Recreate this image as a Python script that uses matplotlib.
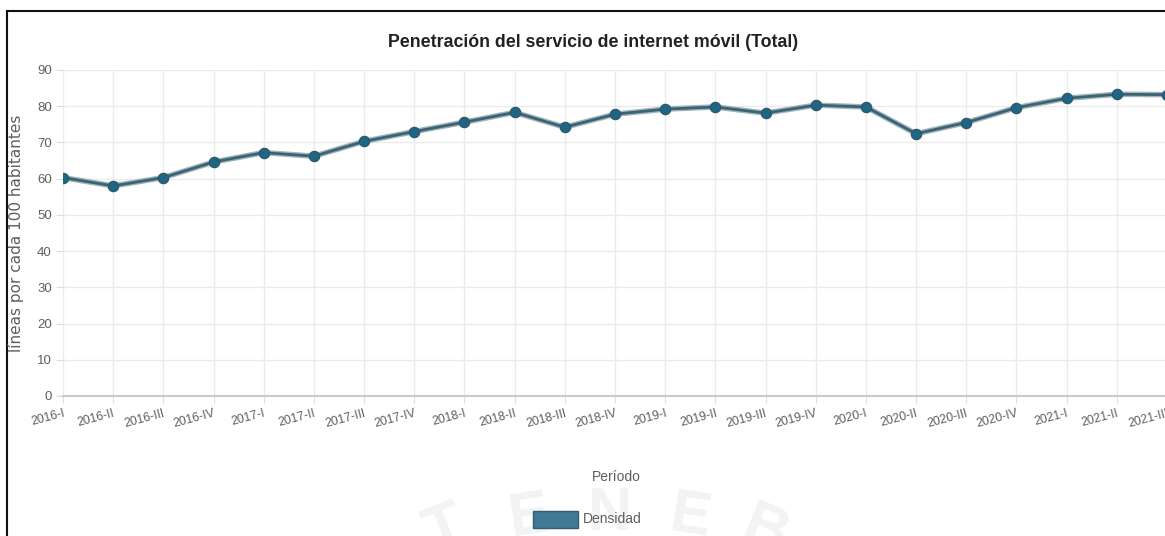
import matplotlib
matplotlib.use("Agg")
import matplotlib.pyplot as plt
from matplotlib.patches import Rectangle
from matplotlib.lines import Line2D
import matplotlib.transforms as mtransforms

# Data
periodos = ["2016-I", "2016-II", "2016-III", "2016-IV",
            "2017-I", "2017-II", "2017-III", "2017-IV",
            "2018-I", "2018-II", "2018-III", "2018-IV",
            "2019-I", "2019-II", "2019-III", "2019-IV",
            "2020-I", "2020-II", "2020-III", "2020-IV",
            "2021-I", "2021-II", "2021-III"]
densidad = [60.3, 58.0, 60.3, 64.6,
            67.2, 66.2, 70.3, 73.0,
            75.6, 78.3, 74.2, 77.8,
            79.2, 79.8, 78.1, 80.3,
            79.8, 72.4, 75.5, 79.6,
            82.2, 83.3, 83.2]
y_ticks = [0, 10, 20, 30, 40, 50, 60, 70, 80, 90]

W, H = 1165, 536
narrow = ["Liberation Sans Narrow", "Liberation Sans", "DejaVu Sans"]
regular = ["Liberation Sans", "DejaVu Sans"]
txt_gray = "#5e5e5e"
line_col = "#3b6374"
dot_col = "#1f6584"

fig = plt.figure(figsize=(W / 100, H / 100), dpi=100, facecolor="white")

# faint watermark letters at the bottom (behind everything)
for ch, x, y, rot in [("T", 445, 530, 22), ("E", 530, 517, 9), ("N", 610, 514, 0),
                      ("E", 690, 518, -9), ("B", 765, 532, -22)]:
    fig.text(x / W, 1 - y / H, ch, fontsize=44, fontweight="bold", color="#f3f3f3",
             rotation=rot, ha="center", va="center", family=regular, zorder=0)

ax = fig.add_axes([63 / W, 1 - 396 / H, (1167 - 63) / W, (396 - 70) / H])
ax.set_facecolor("none")
x = list(range(len(periodos)))
ax.plot(x, densidad, color="#9fb4bd", lw=4.0, zorder=3, solid_capstyle="round")
ax.plot(x, densidad, color=line_col, lw=2.0, zorder=4)
ax.plot(x, densidad, ls="none", marker="o", ms=7.5, color=dot_col,
        markeredgecolor="#2d5566", markeredgewidth=0.8, zorder=5)

ax.set_xlim(0, len(periodos) - 1)
ax.set_ylim(0, 90)
ax.set_yticks(y_ticks)
ax.set_xticks(x)
ax.grid(True, color="#ebebeb", lw=1.0, zorder=0)
for s in ["top", "right", "left"]:
    ax.spines[s].set_visible(False)
ax.spines["bottom"].set_color("#c9c9c9")
ax.spines["bottom"].set_linewidth(1.5)
ax.tick_params(axis="y", length=5, color="#dddddd", labelcolor=txt_gray, labelsize=9.5, pad=3)
ax.tick_params(axis="x", length=5, color="#dddddd", labelcolor=txt_gray, pad=1)
for lab in ax.get_yticklabels():
    lab.set_family(narrow)

ax.set_xticklabels(periodos, rotation=15, ha="right", va="top", rotation_mode="anchor",
                   fontsize=8.8, family=narrow, color=txt_gray)
offset = mtransforms.ScaledTranslation(0, -3 / 100, fig.dpi_scale_trans)
for lab in ax.get_xticklabels():
    lab.set_transform(lab.get_transform() + offset)

# y axis title
fig.text(16 / W, 1 - 233 / H, "líneas por cada 100 habitantes", rotation=90,
         ha="center", va="center", fontsize=11, color=txt_gray, family="DejaVu Sans")

# chart title
fig.text(593 / W, 1 - 42 / H, "Penetración del servicio de internet móvil (Total)",
         ha="center", va="center", fontsize=12.8, fontweight="bold", color="#222222",
         family=narrow)

# x axis title
fig.text(616 / W, 1 - 477 / H, "Período", ha="center", va="center",
         fontsize=10, color=txt_gray, family=narrow)

# legend
fig.patches.append(Rectangle((533 / W, 1 - 528 / H), 45 / W, 17 / H,
                             transform=fig.transFigure, facecolor="#3f7a95",
                             edgecolor="#2f5f73", lw=1.0, zorder=5))
fig.text(583 / W, 1 - 519 / H, "Densidad", ha="left", va="center",
         fontsize=10, color=txt_gray, family=narrow)

# frame of the screenshot
fig.add_artist(Line2D([6.5 / W, 6.5 / W], [0, 1 - 10.5 / H], transform=fig.transFigure,
                      color="#111111", lw=1.5))
fig.add_artist(Line2D([6.5 / W, 1], [1 - 10.5 / H, 1 - 10.5 / H], transform=fig.transFigure,
                      color="#111111", lw=1.5))

fig.savefig("out.png", dpi=100, facecolor="white")
